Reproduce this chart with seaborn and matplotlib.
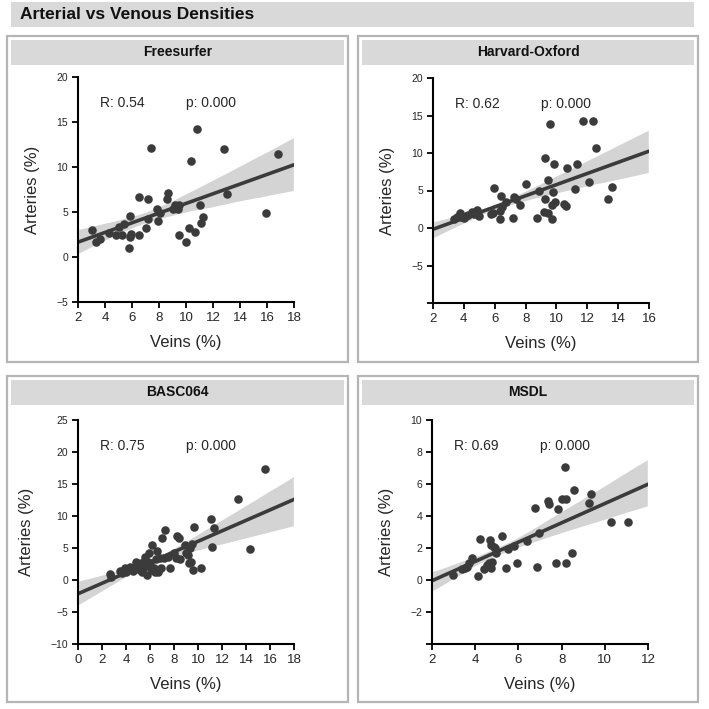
import numpy as np
import pandas as pd
import matplotlib
matplotlib.use("Agg")
import matplotlib.pyplot as plt
import seaborn as sns
from matplotlib.patches import Rectangle

# ------------------------------------------------------------
# data
# ------------------------------------------------------------
fs_veins = [3.0, 3.3, 3.6, 4.3, 4.85, 5.0, 5.25, 5.4, 5.8, 5.85, 5.95, 5.85, 6.55, 6.55,
            7.0, 7.2, 7.15, 7.4, 7.85, 7.95, 8.05, 8.6, 8.7, 9.0, 9.15, 9.3, 9.45, 9.4,
            9.45, 10.0, 10.25, 10.4, 10.65, 10.8, 11.0, 11.1, 11.25, 12.85, 13.05, 15.9, 16.85]
fs_arteries = [3.0, 1.65, 2.05, 2.7, 2.5, 3.3, 2.5, 3.65, 1.05, 2.2, 2.55, 4.55, 6.7, 2.5,
               3.25, 6.45, 4.2, 12.1, 5.35, 4.05, 4.9, 6.4, 7.1, 5.35, 5.8, 5.4, 5.8, 5.35,
               2.4, 1.7, 3.2, 10.7, 2.8, 14.2, 5.8, 3.8, 4.45, 12.0, 7.05, 4.9, 11.5]

ho_veins = [3.36, 3.53, 3.75, 3.79, 4.0, 4.11, 4.26, 4.55, 4.65, 4.76, 4.87, 4.91, 4.98,
            5.73, 5.9, 5.93, 6.34, 6.34, 6.42, 6.47, 6.75, 7.2, 7.24, 7.35, 7.67, 8.0,
            8.71, 8.84, 9.18, 9.23, 9.29, 9.44, 9.48, 9.61, 9.7, 9.74, 9.83, 9.81, 9.92,
            10.52, 10.63, 10.69, 11.19, 11.34, 11.73, 12.12, 12.35, 12.59, 13.32, 13.58]
ho_arteries = [1.16, 1.43, 1.96, 1.52, 1.3, 1.6, 1.74, 2.19, 1.87, 2.05, 2.41, 1.74, 1.6,
               1.87, 1.96, 5.4, 1.2, 2.28, 4.29, 2.86, 3.53, 1.3, 4.2, 3.84, 3.08, 5.89,
               1.3, 4.91, 2.1, 3.88, 9.33, 1.96, 6.34, 13.9, 3.08, 1.16, 8.53, 4.78, 3.53,
               3.21, 2.9, 7.95, 5.18, 8.57, 14.24, 6.07, 14.24, 10.71, 3.88, 5.49]

basc_veins = [2.64, 2.72, 3.47, 3.67, 3.81, 3.94, 4.03, 4.22, 4.36, 4.58, 4.69, 4.81, 4.92,
              5.06, 5.19, 5.28, 5.33, 5.47, 5.53, 5.61, 5.69, 5.75, 5.81, 5.89, 5.97, 6.03,
              6.14, 6.17, 6.31, 6.44, 6.53, 6.58, 6.64, 6.81, 6.94, 7.03, 7.14, 7.22, 7.47,
              7.69, 8.03, 8.14, 8.25, 8.42, 8.53, 8.94, 9.03, 9.14, 9.25, 9.36, 9.5, 9.44,
              9.58, 9.67, 10.28, 11.06, 11.19, 11.33, 13.33, 14.36, 15.56]
basc_arteries = [0.94, 0.52, 1.35, 1.04, 1.56, 1.93, 1.3, 1.67, 1.98, 1.35, 1.82, 2.86, 2.34,
                 1.98, 1.56, 2.6, 1.3, 2.86, 2.08, 3.54, 2.34, 0.78, 2.86, 4.27, 2.08, 2.6,
                 5.47, 1.56, 1.93, 1.3, 3.23, 4.58, 1.3, 3.39, 1.82, 6.51, 3.49, 7.81, 3.65,
                 1.93, 4.17, 3.39, 6.88, 6.51, 3.23, 5.47, 4.17, 3.91, 2.6, 4.95, 5.63, 2.86,
                 1.56, 8.33, 1.82, 9.53, 5.1, 8.18, 12.66, 4.79, 17.34]

msdl_veins = [2.97, 3.39, 3.54, 3.62, 3.7, 3.87, 4.11, 4.24, 4.42, 4.55, 4.62, 4.7, 4.73,
              4.73, 4.79, 4.85, 4.93, 4.98, 5.24, 5.43, 5.5, 5.81, 5.92, 6.4, 6.75, 6.86,
              6.97, 7.35, 7.4, 7.73, 7.82, 8.02, 8.17, 8.22, 8.22, 8.5, 8.57, 9.28, 9.38,
              10.29, 11.09]
msdl_arteries = [0.31, 0.67, 0.77, 0.83, 1.08, 1.4, 0.25, 2.56, 0.69, 0.94, 1.04, 2.5, 0.77,
                 2.19, 1.15, 2.08, 1.98, 1.71, 2.77, 0.73, 1.92, 2.15, 1.08, 2.44, 4.48, 0.83,
                 2.96, 4.94, 4.75, 1.08, 4.46, 5.04, 7.08, 5.04, 1.04, 1.67, 5.63, 4.83, 5.35,
                 3.65, 3.6]

atlas_names = ["Freesurfer", "Harvard-Oxford", "BASC064", "MSDL"]
r_values = ["0.54", "0.62", "0.75", "0.69"]
p_values = ["0.000", "0.000", "0.000", "0.000"]

x_ticks = [list(range(2, 19, 2)), list(range(2, 17, 2)), list(range(0, 19, 2)), list(range(2, 13, 2))]
y_ticks = [[-5, 0, 5, 10, 15, 20], [-10, -5, 0, 5, 10, 15, 20],
           [-10, -5, 0, 5, 10, 15, 20, 25], [-4, -2, 0, 2, 4, 6, 8, 10]]
y_hidden = [None, -10, None, -4]  # bottom tick without a label

veins = [fs_veins, ho_veins, basc_veins, msdl_veins]
arteries = [fs_arteries, ho_arteries, basc_arteries, msdl_arteries]

# ------------------------------------------------------------
# style
# ------------------------------------------------------------
sns.set_style("ticks")
plt.rcParams["font.family"] = ["Liberation Sans", "DejaVu Sans"]

W, H = 709, 709
DARK = "#3b3b3b"
BAR = "#d9d9d9"


def rect(x0, y0, x1, y1):
    # pixel box -> figure fraction [left, bottom, width, height]
    return [x0 / W, 1 - y1 / H, (x1 - x0) / W, (y1 - y0) / H]


def add_box(box, **kw):
    r = rect(*box)
    fig.patches.append(Rectangle(r[:2], r[2], r[3], transform=fig.transFigure, **kw))


fig = plt.figure(figsize=(W / 100, H / 100), dpi=100)

# main title bar
add_box((11, 2, 694, 27), facecolor=BAR, edgecolor="none", zorder=-1)
fig.text(20 / W, 1 - 14.5 / H, "Arterial vs Venous Densities", fontsize=12.5,
         fontweight="bold", va="center", ha="left", color="#111111")

frames = [(7, 36, 348, 362), (358, 36, 698, 362), (7, 376, 348, 702), (358, 376, 698, 702)]
axes_px = [(78, 77, 294, 302), (433, 78, 649, 303), (78, 420, 294, 644), (432, 420, 648, 644)]

for i, name in enumerate(atlas_names):
    fx0, fy0, fx1, fy1 = frames[i]
    add_box(frames[i], facecolor="none", edgecolor="#b5b5b5", lw=1.6, zorder=-2)
    add_box((fx0 + 4, fy0 + 4, fx1 - 4, fy0 + 29), facecolor=BAR, edgecolor="none", zorder=-1)
    fig.text((fx0 + fx1) / 2 / W, 1 - (fy0 + 16.5) / H, name, fontsize=10,
             fontweight="bold", ha="center", va="center", color="#111111")

    ax = fig.add_axes(rect(*axes_px[i]))
    df = pd.DataFrame({"veins": veins[i], "arteries": arteries[i]})
    xt, yt = x_ticks[i], y_ticks[i]
    ax.set_xlim(xt[0], xt[-1])
    ax.set_ylim(yt[0], yt[-1])
    sns.regplot(data=df, x="veins", y="arteries", ax=ax, truncate=False, seed=0,
                scatter_kws={"s": 38, "color": DARK, "alpha": 1, "linewidths": 0, "zorder": 3},
                line_kws={"color": DARK, "lw": 2.6, "zorder": 2}, color="#9a9a9a")
    # lighten the confidence band
    for poly in ax.collections[1:]:
        poly.set_facecolor("#d4d4d4")
        poly.set_alpha(1)
        poly.set_zorder(1)
    ax.set_xlim(xt[0], xt[-1])
    ax.set_ylim(yt[0], yt[-1])
    ax.set_xticks(xt)
    ax.set_yticks(yt)
    ax.set_yticklabels(["" if v == y_hidden[i] else str(v).replace("-", "\u2212") for v in yt])
    ax.tick_params(axis="x", labelsize=9.5, length=4, width=1.3, color="black", pad=3)
    ax.tick_params(axis="y", labelsize=7.5, length=4, width=1.3, color="black", pad=3)
    sns.despine(ax=ax)
    for s in ["left", "bottom"]:
        ax.spines[s].set_linewidth(1.5)
        ax.spines[s].set_color("black")
    ax.set_xlabel("Veins (%)", fontsize=12, labelpad=8)
    ax.set_ylabel("Arteries (%)", fontsize=12, labelpad=12)
    ax.text(0.10, 0.885, "R: " + r_values[i], transform=ax.transAxes, fontsize=10,
            ha="left", va="center")
    ax.text(0.50, 0.885, "p: " + p_values[i], transform=ax.transAxes, fontsize=10,
            ha="left", va="center")
    ax.set_facecolor("none")

fig.savefig("out.png", dpi=100)
